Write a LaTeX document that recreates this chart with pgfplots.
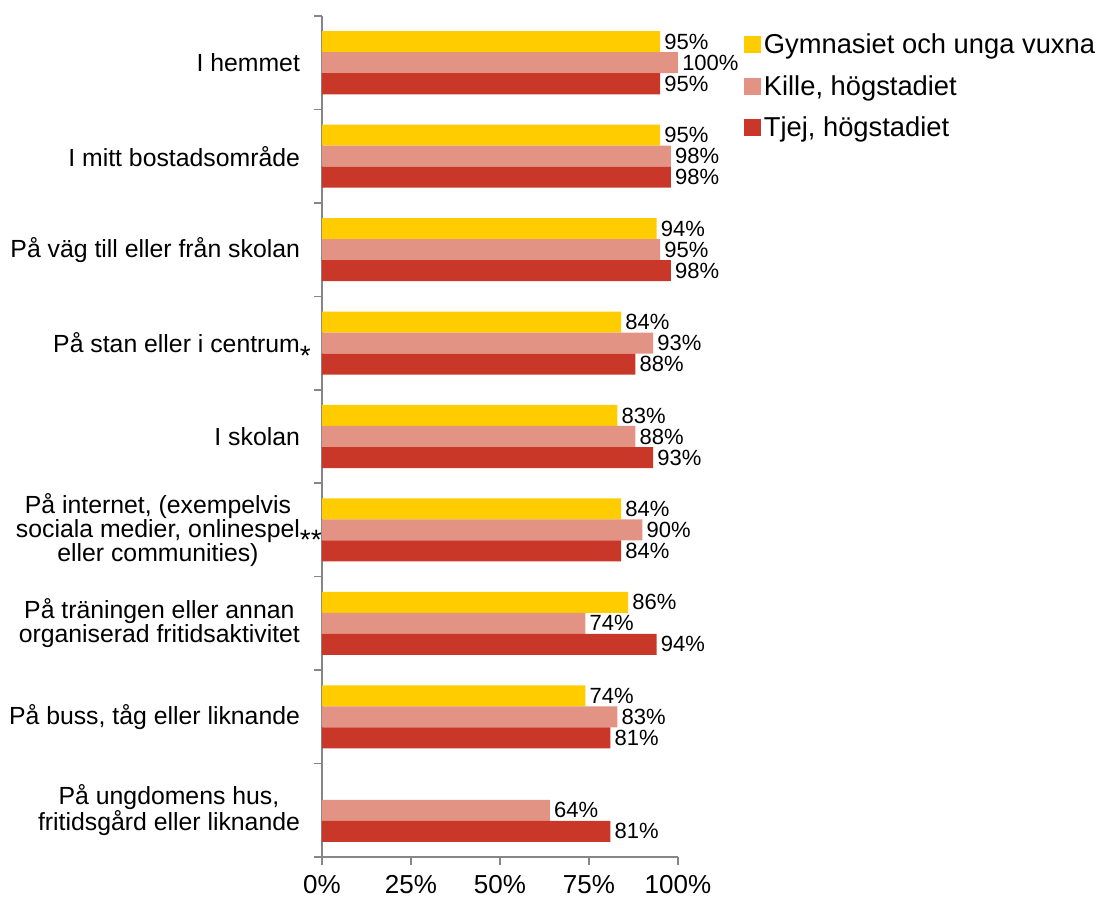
\documentclass[border=0pt]{standalone}
\usepackage{fontspec}
\setmainfont{Liberation Sans}
\usepackage{pgfplots}
\pgfplotsset{compat=1.18}
\definecolor{gymgul}{RGB}{255,204,0}
\definecolor{killerosa}{RGB}{227,147,132}
\definecolor{tjejrod}{RGB}{200,55,40}
\definecolor{axelgra}{RGB}{134,134,134}
% asterisk hanging after a label, lowered, not taking part in centring
\newcommand{\stj}[1]{\rlap{\smash{\raisebox{-0.5em}{\fontsize{21}{21}\selectfont#1}}}}

\begin{document}
\begin{tikzpicture}
\begin{axis}[
    at={(0,0)}, anchor=south west,
    width=267pt, height=630.75pt, scale only axis,
    xbar, bar width=0.225,
    xmin=0, xmax=100, ymin=0.5, ymax=9.5,
    axis x line*=bottom, axis y line*=left,
    axis line style={draw=axelgra, line width=1.1pt, -},
    tick align=outside, major tick length=6pt,
    every tick/.style={draw=axelgra, line width=1.1pt},
    xtick={0,25,50,75,100},
    xticklabel={\pgfmathprintnumber{\tick}\%},
    xticklabel style={font=\fontsize{19.5}{22}\selectfont, yshift=-4pt},
    /pgf/number format/assume math mode=true,
    ytick={0.5,1.5,...,9.5}, yticklabels={},
    extra y ticks={1,2,...,9},
    extra y tick style={tickwidth=0pt},
    extra y tick labels={
        {På ungdomens hus,\\fritidsgård eller liknande},
        {På buss, tåg eller liknande},
        {På träningen eller annan\\organiserad fritidsaktivitet},
        {På internet, (exempelvis\\sociala medier, onlinespel\stj{**}\\eller communities)},
        {I skolan},
        {På stan eller i centrum\stj{*}},
        {På väg till eller från skolan},
        {I mitt bostadsområde},
        {I hemmet}},
    yticklabel style={font=\fontsize{18.6}{18}\selectfont, align=center, xshift=-13pt},
    point meta=x,
    nodes near coords={\pgfmathprintnumber{\pgfplotspointmeta}\%},
    nodes near coords style={font=\fontsize{16.5}{18}\selectfont, inner sep=3pt},
    legend style={at={(1.174,0.986)}, anchor=north west, draw=none, fill=none,
        font=\fontsize{20.5}{22}\selectfont, row sep=11pt,
        nodes={inner sep=2pt}},
    legend cell align=left,
    legend image code/.code={\fill[#1] (0pt,-6.4pt) rectangle (12.75pt,6.4pt);},
]

% Gymnasiet och unga vuxna (ingen stapel för ungdomens hus)
\addplot[fill=gymgul, draw=none, bar shift=0.225] coordinates {
    (74,2) (86,3) (84,4) (83,5) (84,6) (94,7) (95,8) (95,9)
};
\addlegendentry{Gymnasiet och unga vuxna}

% Kille, högstadiet
\addplot[fill=killerosa, draw=none, bar shift=0] coordinates {
    (64,1) (83,2) (74,3) (90,4) (88,5) (93,6) (95,7) (98,8) (100,9)
};
\addlegendentry{Kille, högstadiet}

% Tjej, högstadiet
\addplot[fill=tjejrod, draw=none, bar shift=-0.225] coordinates {
    (81,1) (81,2) (94,3) (84,4) (93,5) (88,6) (98,7) (98,8) (95,9)
};
\addlegendentry{Tjej, högstadiet}

\end{axis}
\pgfresetboundingbox
\useasboundingbox (-241.5pt,-33pt) rectangle (584.25pt,642.75pt);
\end{tikzpicture}
\end{document}
